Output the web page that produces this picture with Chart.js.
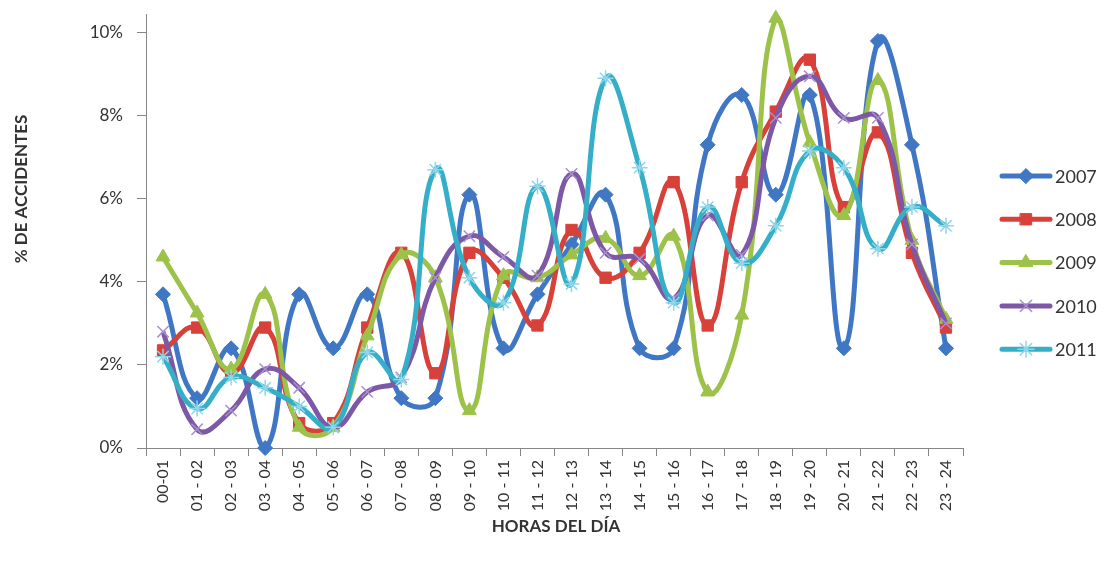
<!DOCTYPE html>
<html>
<head>
<meta charset="utf-8">
<script src="https://cdn.jsdelivr.net/npm/chart.js@4"></script>
<style>
  html, body { margin: 0; padding: 0; background: #fff; }
  #wrap { width: 1115px; height: 565px; }
</style>
</head>
<body>
<div id="wrap"><canvas id="myChart" width="1115" height="565"></canvas></div>
<script>
// categories (hour ranges)
const horas = ['00-01', '01 - 02', '02 - 03', '03 - 04', '04 - 05', '05 - 06', '06 - 07', '07 - 08',
  '08 - 09', '09 - 10', '10 - 11', '11 - 12', '12 - 13', '13 - 14', '14 - 15', '15 - 16',
  '16 - 17', '17 - 18', '18 - 19', '19 - 20', '20 - 21', '21 - 22', '22 - 23', '23 - 24'];

// % of accidents per year
const y2007 = [3.7, 1.2, 2.4, 0.0, 3.7, 2.4, 3.7, 1.2, 1.2, 6.1, 2.4, 3.7, 4.9, 6.1, 2.4, 2.4, 7.3, 8.5, 6.1, 8.5, 2.4, 9.8, 7.3, 2.4];
const y2008 = [2.35, 2.9, 1.8, 2.9, 0.6, 0.6, 2.9, 4.7, 1.8, 4.7, 4.1, 2.95, 5.25, 4.1, 4.7, 6.4, 2.95, 6.4, 8.1, 9.35, 5.8, 7.6, 4.7, 2.9];
const y2009 = [4.6, 3.25, 1.9, 3.7, 0.5, 0.5, 2.7, 4.65, 4.1, 0.9, 4.15, 4.1, 4.65, 5.05, 4.15, 5.1, 1.35, 3.2, 10.35, 7.35, 5.6, 8.85, 5.0, 3.1];
const y2010 = [2.8, 0.45, 0.9, 1.9, 1.45, 0.5, 1.35, 1.7, 4.1, 5.1, 4.6, 4.15, 6.6, 4.7, 4.55, 3.6, 5.6, 4.65, 7.95, 8.95, 7.95, 7.95, 4.9, 3.0];
const y2011 = [2.2, 0.95, 1.7, 1.45, 1.0, 0.5, 2.3, 1.65, 6.7, 4.1, 3.5, 6.3, 3.95, 8.9, 6.75, 3.5, 5.8, 4.45, 5.35, 7.15, 6.75, 4.8, 5.8, 5.35];

const years = ['2007', '2008', '2009', '2010', '2011'];
const yTicks = [0, 2, 4, 6, 8, 10];

const lineColors = ['#3F77C4', '#D8403A', '#9DC24A', '#7C58A6', '#35AFC8'];
const markColors = ['#3F77C4', '#D8403A', '#9DC24A', '#A98FD0', '#8FD6EA'];
const markStyles = ['rectRot', 'rect', 'triangle', 'crossRot', 'star'];
const markSizes = [7.5, 8, 8, 8, 8];

const font = 'Lato, "Open Sans", sans-serif';

// legend and axis titles drawn by hand to match the original placement
const extras = {
  id: 'extras',
  afterDraw(chart) {
    const c = chart.ctx;
    // datasets are reversed (2007 on top), legend goes back in year order
    const sets = chart.data.datasets.slice().reverse();

    c.save();
    c.fillStyle = '#333';
    c.font = 'bold 17px ' + font;
    c.textAlign = 'center';
    c.textBaseline = 'middle';
    c.translate(22, 189);
    c.rotate(-Math.PI / 2);
    c.fillText('% DE ACCIDENTES', 0, 0);
    c.restore();

    c.save();
    c.fillStyle = '#333';
    c.font = 'bold 17px ' + font;
    c.textAlign = 'center';
    c.textBaseline = 'middle';
    c.fillText('HORAS DEL DÍA', 556, 527);

    sets.forEach((ds, i) => {
      const y = 176 + i * 43.3;
      c.strokeStyle = ds.borderColor;
      c.lineWidth = 5;
      c.lineCap = 'round';
      c.beginPath();
      c.moveTo(1002, y);
      c.lineTo(1050, y);
      c.stroke();
      c.fillStyle = ds.pointBackgroundColor;
      c.strokeStyle = ds.pointBorderColor;
      c.lineWidth = ds.pointBorderWidth;
      Chart.helpers.drawPoint(c, {
        pointStyle: ds.pointStyle,
        radius: ds.pointRadius,
        borderWidth: ds.pointBorderWidth
      }, 1026, y);
      c.fillStyle = '#333';
      c.font = '18px ' + font;
      c.textAlign = 'left';
      c.fillText(ds.label, 1055, y + 1);
    });
    c.restore();
  }
};

const ctx = document.getElementById('myChart');

new Chart(ctx, {
  type: 'line',
  data: {
    labels: horas,
    datasets: [y2007, y2008, y2009, y2010, y2011].map((vals, i) => ({
      label: years[i],
      data: vals,
      borderColor: lineColors[i],
      backgroundColor: markColors[i],
      borderWidth: 5,
      tension: 0.45,
      pointStyle: markStyles[i],
      pointRadius: markSizes[i],
      pointBackgroundColor: markColors[i],
      pointBorderColor: markColors[i],
      pointBorderWidth: (i >= 3) ? 1.5 : 1,
      clip: false
    })).reverse()
  },
  options: {
    responsive: false,
    animation: false,
    events: [],
    layout: { padding: { left: 0, top: 14, right: 152, bottom: 0 } },
    plugins: {
      legend: { display: false },
      tooltip: { enabled: false }
    },
    scales: {
      x: {
        offset: true,
        grid: {
          offset: true,
          drawOnChartArea: false,
          drawTicks: true,
          tickLength: 8,
          color: '#868686'
        },
        border: { color: '#868686', width: 1 },
        ticks: {
          autoSkip: false,
          maxRotation: 90,
          minRotation: 90,
          padding: 4,
          color: '#333',
          font: { family: font, size: 16 }
        },
        afterFit: s => { s.height = 117; s.paddingLeft = 0; s.paddingRight = 0; }
      },
      y: {
        min: 0,
        max: 10.45,
        grid: {
          drawOnChartArea: false,
          drawTicks: true,
          tickLength: 9,
          color: '#868686'
        },
        border: { color: '#868686', width: 1 },
        ticks: {
          padding: 14,
          color: '#333',
          font: { family: font, size: 17 },
          callback: v => v + '%'
        },
        afterBuildTicks: s => { s.ticks = yTicks.map(v => ({ value: v })); },
        afterFit: s => { s.width = 146; s.paddingTop = 0; s.paddingBottom = 0; }
      }
    }
  },
  plugins: [extras]
});
</script>
</body>
</html>
